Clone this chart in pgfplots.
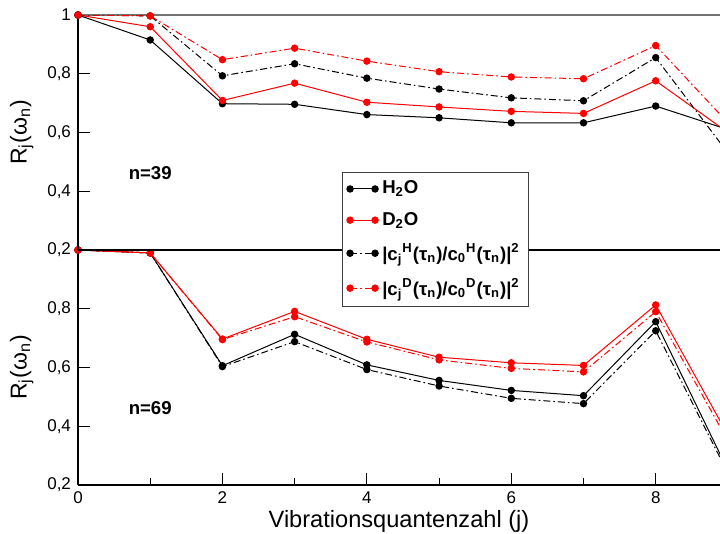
\documentclass[border=0pt]{standalone}
\usepackage{fontspec}
\setmainfont{Liberation Sans}
\usepackage{pgfplots}
\pgfplotsset{compat=1.18}
\begin{document}
\begin{tikzpicture}[x=1pt,y=1pt]
\pgfplotsset{
 common/.style={
  scale only axis, width=321pt, height=117.5pt,
  xmin=0, xmax=8.89, ymin=0.2, ymax=1,
  axis y line*=left,
  tick align=inside,
  major tick length=6pt, minor tick length=3.5pt,
  every tick/.style={black, line width=0.5pt},
  axis line style={line width=0.6pt},
  ylabel={R\textsubscript{j}(ω\textsubscript{n})},
  ylabel style={font=\fontsize{11.5}{13}\selectfont},
  yticklabel style={font=\fontsize{8.5}{10}\selectfont},
  xticklabel style={font=\fontsize{8.5}{10}\selectfont},
  clip mode=individual,
  every axis plot/.append style={line width=0.5pt, mark size=1.6pt},
  legend image code/.code={\draw[##1] plot coordinates {(0pt,0pt) (12.5pt,0pt)};},
 },
 hs/.style={black, solid, mark=*, mark options={solid}},
 ds/.style={red, solid, mark=*, mark options={solid}},
 hd/.style={black, dash pattern=on 3.5pt off 1.5pt on 0.8pt off 1.5pt, mark=*, mark options={solid}},
 dd/.style={red, dash pattern=on 3.5pt off 1.5pt on 0.8pt off 1.5pt, mark=*, mark options={solid}},
}
% bottom panel, n=69
\begin{axis}[common, at={(0,0)}, anchor=south west,
  axis x line*=box, xtick pos=left,
  xtick={0,2,4,6,8}, xticklabels={0,2,4,6,8}, minor xtick={1,3,5,7},
  ytick={0.2,0.4,0.6,0.8}, yticklabels={{0,2},{0,4},{0,6},{0,8}},
  xlabel={Vibrationsquantenzahl (j)},
  xlabel style={font=\fontsize{11.8}{13}\selectfont, yshift=3.5pt},
]
\addplot[hd] coordinates {(0,1) (1,0.99) (2,0.603) (3,0.688) (4,0.593) (5,0.537) (6,0.495) (7,0.477) (8,0.725) (9,0.24)};
\addplot[hs] coordinates {(0,1) (1,0.99) (2,0.606) (3,0.713) (4,0.609) (5,0.556) (6,0.522) (7,0.504) (8,0.756) (9,0.25)};
\addplot[dd] coordinates {(0,1) (1,0.99) (2,0.695) (3,0.773) (4,0.687) (5,0.626) (6,0.597) (7,0.585) (8,0.790) (9,0.35)};
\addplot[ds] coordinates {(0,1) (1,0.99) (2,0.697) (3,0.791) (4,0.696) (5,0.635) (6,0.616) (7,0.607) (8,0.813) (9,0.37)};
\node[font=\bfseries\fontsize{9.3}{10}\selectfont] at (axis cs:1,0.462) {n=69};
\end{axis}
% top panel, n=39
\begin{axis}[common, at={(0,117.5pt)}, anchor=south west,
  axis x line*=bottom, xtick=\empty,
  ytick={0.2,0.4,0.6,0.8,1}, yticklabels={{0,2},{0,4},{0,6},{0,8},1},
  legend style={at={(0.411,0.332)}, anchor=north west, draw=black!75, line width=0.6pt,
    font=\bfseries\fontsize{9.3}{10}\selectfont, row sep=3.6pt, inner sep=2.2pt},
  legend cell align=left,
]
\draw[black!55, line width=0.7pt] (rel axis cs:0,1) -- (rel axis cs:1,1);
\addplot[hs] coordinates {(0,1) (1,0.915) (2,0.698) (3,0.696) (4,0.661) (5,0.650) (6,0.633) (7,0.633) (8,0.690) (9,0.61)};
\addplot[ds] coordinates {(0,1) (1,0.960) (2,0.709) (3,0.768) (4,0.703) (5,0.687) (6,0.672) (7,0.665) (8,0.776) (9,0.60)};
\addplot[hd] coordinates {(0,1) (1,0.997) (2,0.793) (3,0.834) (4,0.785) (5,0.748) (6,0.718) (7,0.708) (8,0.855) (9,0.53)};
\addplot[dd] coordinates {(0,1) (1,0.997) (2,0.848) (3,0.887) (4,0.843) (5,0.807) (6,0.789) (7,0.783) (8,0.896) (9,0.633)};
\legend{H\textsubscript{2}O, D\textsubscript{2}O,
 {|c\textsubscript{j}\textsuperscript{H}(τ\textsubscript{n})/c\textsubscript{0}\textsuperscript{H}(τ\textsubscript{n})|\textsuperscript{2}},
 {|c\textsubscript{j}\textsuperscript{D}(τ\textsubscript{n})/c\textsubscript{0}\textsuperscript{D}(τ\textsubscript{n})|\textsuperscript{2}}}
\node[font=\bfseries\fontsize{9.3}{10}\selectfont] at (axis cs:1,0.462) {n=39};
\end{axis}
\pgfresetboundingbox
\useasboundingbox (-39pt,-24.5pt) rectangle (321pt,242.5pt);
\end{tikzpicture}
\end{document}
